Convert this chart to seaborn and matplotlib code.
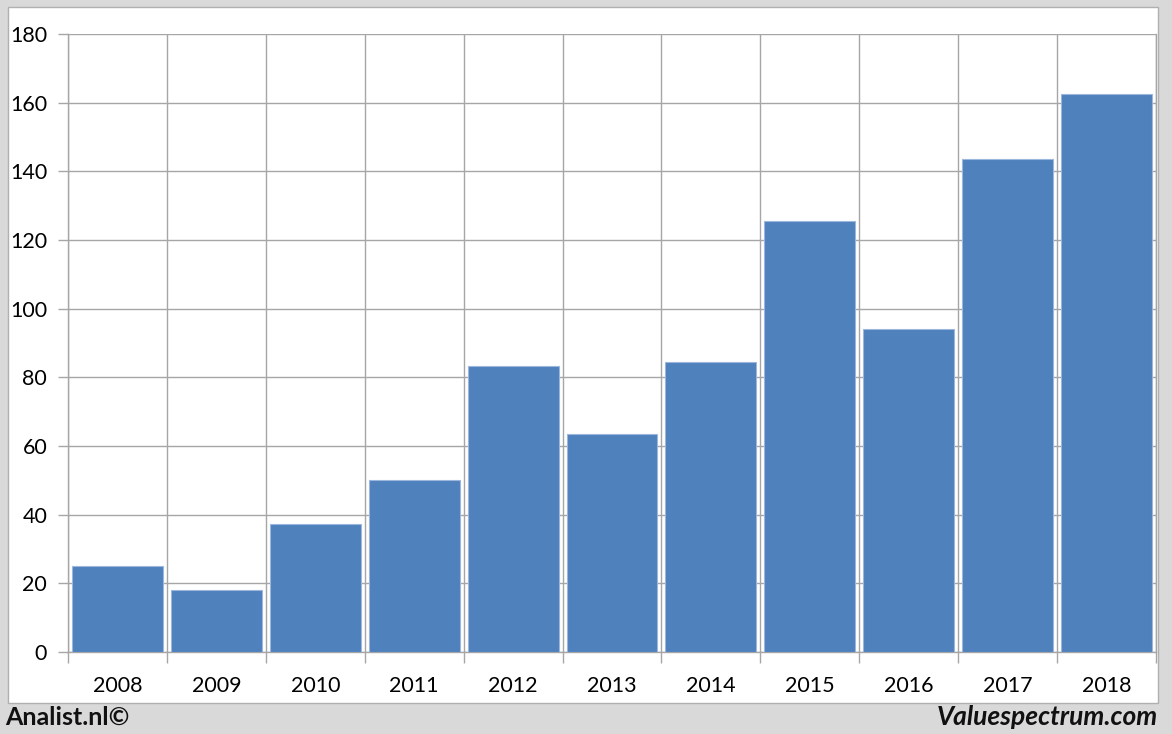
import numpy as np
import pandas as pd
import matplotlib.pyplot as plt
import seaborn as sns
from matplotlib.patches import Rectangle

# Datos
jaren = ["2008", "2009", "2010", "2011", "2012", "2013", "2014", "2015", "2016", "2017", "2018"]
waarden = [25.0, 18.0, 37.3, 50.1, 83.4, 63.5, 84.4, 125.4, 94.0, 143.6, 162.6]
y_ticks = [0, 20, 40, 60, 80, 100, 120, 140, 160, 180]

sns.set_theme(style="white")
plt.rcParams['font.family'] = ['Lato', 'DejaVu Sans']

df = pd.DataFrame({"jaar": jaren, "waarde": waarden})

fig = plt.figure(figsize=(11.72, 7.34), dpi=100)
fig.patch.set_facecolor("#d9d9d9")

# panel blanco con borde gris (detrás de los ejes)
fig.patches.append(Rectangle((8 / 1172, 1 - 703 / 734), 1150 / 1172, 696 / 734,
                             transform=fig.transFigure, facecolor="white",
                             edgecolor="#b0b0b0", linewidth=1, zorder=-10))

ax = fig.add_axes([68 / 1172, 1 - 652 / 734, 1088 / 1172, 618 / 734])
ax.set_zorder(5)
ax.set_facecolor("none")

sns.barplot(data=df, x="jaar", y="waarde", color="#4f81bd", width=0.92,
            edgecolor="#9bb7de", linewidth=0.8, saturation=1, ax=ax, zorder=3)

ax.set_xlim(-0.5, len(jaren) - 0.5)
ax.set_ylim(0, 180)
ax.set_yticks(y_ticks)
ax.set_xticks(np.arange(-0.5, len(jaren), 1.0), minor=True)

grid_c = "#a6a6a6"
ax.yaxis.grid(True, color=grid_c, linewidth=1, zorder=1)
ax.xaxis.grid(True, which="minor", color=grid_c, linewidth=1, zorder=1)
ax.set_axisbelow(True)

ax.tick_params(axis="x", which="major", length=0, pad=17, labelsize=15.5, colors="black")
ax.tick_params(axis="x", which="minor", length=8, color=grid_c, width=1, direction="out")
ax.tick_params(axis="y", length=7, color=grid_c, width=1, direction="out", pad=8,
               labelsize=15.5, labelcolor="black")
ax.tick_params(axis="x", bottom=True, which="both")
ax.tick_params(axis="y", left=True)

for s in ["left", "bottom", "right"]:
    ax.spines[s].set_color(grid_c)
    ax.spines[s].set_linewidth(1)
ax.spines["top"].set_visible(False)

ax.set_xlabel("")
ax.set_ylabel("")

fig.text(5 / 1172, 1 - 717 / 734, "Analist.nl©", fontsize=18, fontweight="bold",
         ha="left", va="center", color="#111111")
fig.text(1158 / 1172, 1 - 717 / 734, "Valuespectrum.com", fontsize=19, fontweight="bold",
         style="italic", ha="right", va="center", color="#111111")

fig.savefig("out.png", dpi=100, facecolor=fig.get_facecolor())
